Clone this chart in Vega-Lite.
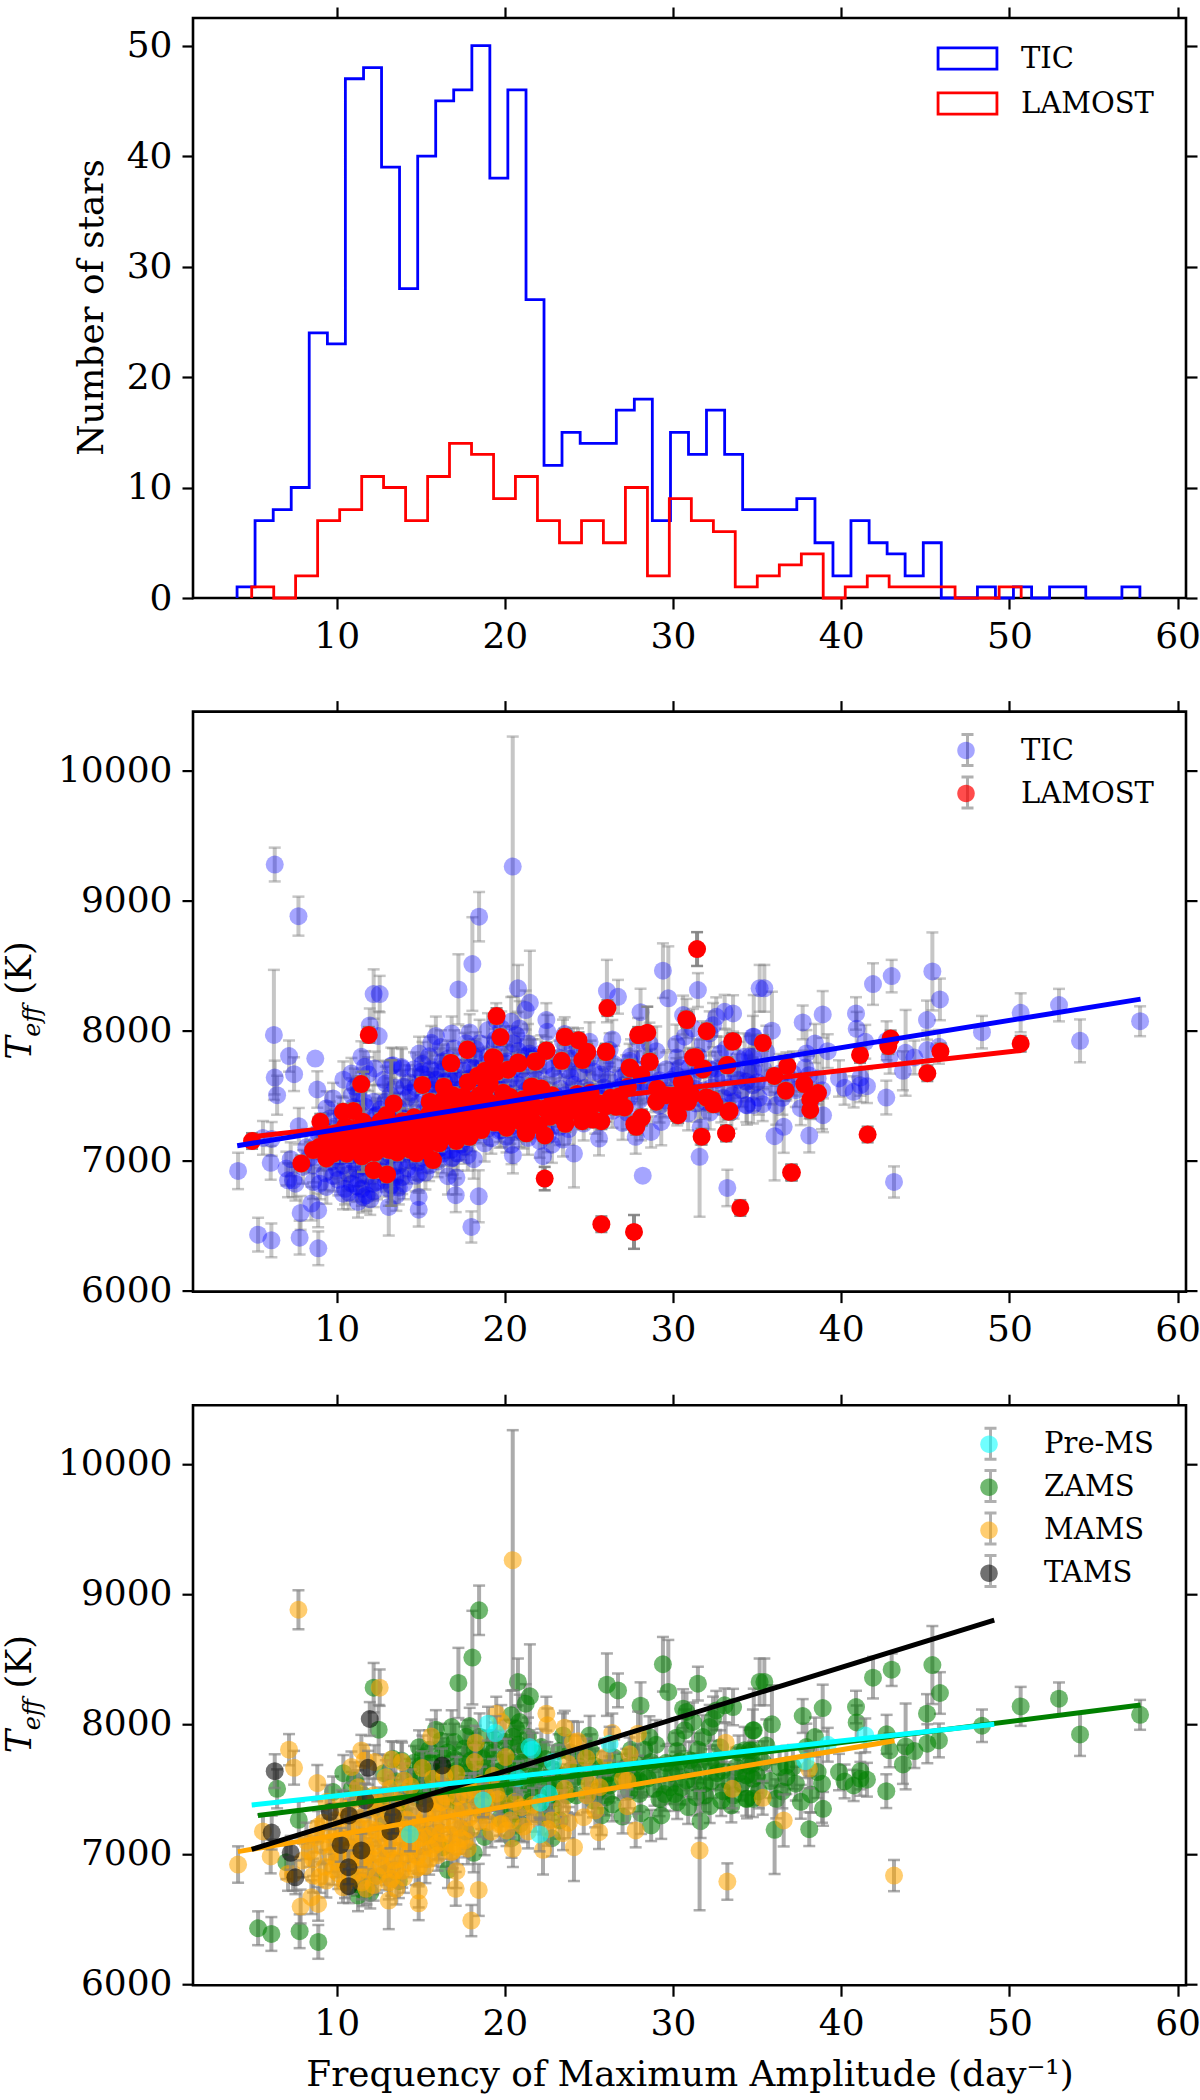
{"$schema":"https://vega.github.io/schema/vega-lite/v6.json","background":"white","padding":{"left":0,"top":4,"right":0,"bottom":0},"spacing":41.6,
"resolve":{"scale":{"color":"independent","shape":"independent"},"legend":{"color":"independent","shape":"independent"}},
"config":{"view":{"stroke":"black","strokeWidth":2.6},"font":"DejaVu Serif","axis":{"grid":false,"domain":false,"tickColor":"black","tickWidth":2.2,"tickSize":11,"labelFont":"DejaVu Serif","labelFontSize":36,"labelColor":"black","labelPadding":10,"titleFont":"DejaVu Serif","titleFontSize":35.8,"titleFontWeight":"normal","titleColor":"black"},"legend":{"labelFont":"DejaVu Serif","labelFontSize":29,"labelColor":"black"}},
"datasets":{
"hist":[
{"b":"TIC","x":4.08,"n":0,"o":0},{"b":"TIC","x":4.08,"n":1,"o":1},{"b":"TIC","x":5.15,"n":7,"o":2},{"b":"TIC","x":6.23,"n":8,"o":3},{"b":"TIC","x":7.30,"n":10,"o":4},{"b":"TIC","x":8.37,"n":24,"o":5},{"b":"TIC","x":9.45,"n":23,"o":6},{"b":"TIC","x":10.52,"n":47,"o":7},{"b":"TIC","x":11.60,"n":48,"o":8},{"b":"TIC","x":12.67,"n":39,"o":9},{"b":"TIC","x":13.74,"n":28,"o":10},{"b":"TIC","x":14.82,"n":40,"o":11},{"b":"TIC","x":15.89,"n":45,"o":12},{"b":"TIC","x":16.96,"n":46,"o":13},{"b":"TIC","x":18.04,"n":50,"o":14},{"b":"TIC","x":19.11,"n":38,"o":15},{"b":"TIC","x":20.18,"n":46,"o":16},{"b":"TIC","x":21.26,"n":27,"o":17},{"b":"TIC","x":22.33,"n":12,"o":18},{"b":"TIC","x":23.40,"n":15,"o":19},{"b":"TIC","x":24.48,"n":14,"o":20},{"b":"TIC","x":25.55,"n":14,"o":21},{"b":"TIC","x":26.63,"n":17,"o":22},{"b":"TIC","x":27.70,"n":18,"o":23},{"b":"TIC","x":28.77,"n":7,"o":24},{"b":"TIC","x":29.85,"n":15,"o":25},{"b":"TIC","x":30.92,"n":13,"o":26},{"b":"TIC","x":31.99,"n":17,"o":27},{"b":"TIC","x":33.07,"n":13,"o":28},{"b":"TIC","x":34.14,"n":8,"o":29},{"b":"TIC","x":35.21,"n":8,"o":30},{"b":"TIC","x":36.29,"n":8,"o":31},{"b":"TIC","x":37.36,"n":9,"o":32},{"b":"TIC","x":38.44,"n":5,"o":33},{"b":"TIC","x":39.51,"n":2,"o":34},{"b":"TIC","x":40.58,"n":7,"o":35},{"b":"TIC","x":41.66,"n":5,"o":36},{"b":"TIC","x":42.73,"n":4,"o":37},{"b":"TIC","x":43.80,"n":2,"o":38},{"b":"TIC","x":44.88,"n":5,"o":39},{"b":"TIC","x":45.95,"n":0,"o":40},{"b":"TIC","x":47.02,"n":0,"o":41},{"b":"TIC","x":48.10,"n":1,"o":42},{"b":"TIC","x":49.17,"n":0,"o":43},{"b":"TIC","x":50.24,"n":1,"o":44},{"b":"TIC","x":51.32,"n":0,"o":45},{"b":"TIC","x":52.39,"n":1,"o":46},{"b":"TIC","x":53.47,"n":1,"o":47},{"b":"TIC","x":54.54,"n":0,"o":48},{"b":"TIC","x":55.61,"n":0,"o":49},{"b":"TIC","x":56.69,"n":1,"o":50},{"b":"TIC","x":57.76,"n":0,"o":51},
{"b":"LAMOST","x":4.95,"n":0,"o":0},{"b":"LAMOST","x":4.95,"n":1,"o":1},{"b":"LAMOST","x":6.26,"n":0,"o":2},{"b":"LAMOST","x":7.56,"n":2,"o":3},{"b":"LAMOST","x":8.87,"n":7,"o":4},{"b":"LAMOST","x":10.18,"n":8,"o":5},{"b":"LAMOST","x":11.49,"n":11,"o":6},{"b":"LAMOST","x":12.79,"n":10,"o":7},{"b":"LAMOST","x":14.10,"n":7,"o":8},{"b":"LAMOST","x":15.41,"n":11,"o":9},{"b":"LAMOST","x":16.71,"n":14,"o":10},{"b":"LAMOST","x":18.02,"n":13,"o":11},{"b":"LAMOST","x":19.33,"n":9,"o":12},{"b":"LAMOST","x":20.63,"n":11,"o":13},{"b":"LAMOST","x":21.94,"n":7,"o":14},{"b":"LAMOST","x":23.25,"n":5,"o":15},{"b":"LAMOST","x":24.56,"n":7,"o":16},{"b":"LAMOST","x":25.86,"n":5,"o":17},{"b":"LAMOST","x":27.17,"n":10,"o":18},{"b":"LAMOST","x":28.48,"n":2,"o":19},{"b":"LAMOST","x":29.78,"n":9,"o":20},{"b":"LAMOST","x":31.09,"n":7,"o":21},{"b":"LAMOST","x":32.40,"n":6,"o":22},{"b":"LAMOST","x":33.70,"n":1,"o":23},{"b":"LAMOST","x":35.01,"n":2,"o":24},{"b":"LAMOST","x":36.32,"n":3,"o":25},{"b":"LAMOST","x":37.63,"n":4,"o":26},{"b":"LAMOST","x":38.93,"n":0,"o":27},{"b":"LAMOST","x":40.24,"n":1,"o":28},{"b":"LAMOST","x":41.55,"n":2,"o":29},{"b":"LAMOST","x":42.85,"n":1,"o":30},{"b":"LAMOST","x":44.16,"n":1,"o":31},{"b":"LAMOST","x":45.47,"n":1,"o":32},{"b":"LAMOST","x":46.77,"n":0,"o":33},{"b":"LAMOST","x":48.08,"n":0,"o":34},{"b":"LAMOST","x":49.39,"n":1,"o":35},{"b":"LAMOST","x":50.70,"n":0,"o":36}],
"fit2":[{"s":"LAMOST","f":4.95,"T":7180},{"s":"LAMOST","f":50.7,"T":7844},{"s":"TIC","f":4.09,"T":7112},{"s":"TIC","f":57.8,"T":8239}],
"fit3":[{"s":"ZAMS","f":5.32,"T":7295},{"s":"ZAMS","f":57.8,"T":8144},{"s":"MAMS","f":4.13,"T":7017},{"s":"MAMS","f":43.17,"T":7870},{"s":"TAMS","f":4.95,"T":7034},{"s":"TAMS","f":49.1,"T":8797},{"s":"Pre-MS","f":4.95,"T":7375},{"s":"Pre-MS","f":49.1,"T":7997}],
"stars":[
{"f":6.32,"T":9274,"e":130,"c":"X"},{"f":6.27,"T":7964,"e":500,"c":"X"},{"f":8.73,"T":7782,"e":0,"c":"X"},{"f":28.2,"T":6881,"e":0,"c":"X"},
{"f":35.43,"T":8322,"e":180,"c":"ZAMS"},{"f":41.89,"T":8355,"e":160,"c":"ZAMS"},{"f":43.0,"T":8416,"e":125,"c":"ZAMS"},{"f":45.42,"T":8452,"e":300,"c":"ZAMS"},{"f":45.87,"T":8237,"e":160,"c":"ZAMS"},{"f":45.1,"T":8078,"e":150,"c":"ZAMS"},{"f":40.88,"T":8129,"e":125,"c":"ZAMS"},{"f":40.92,"T":8011,"e":130,"c":"ZAMS"},{"f":38.9,"T":8121,"e":180,"c":"ZAMS"},{"f":37.71,"T":8060,"e":130,"c":"ZAMS"},{"f":35.88,"T":7996,"e":300,"c":"ZAMS"},{"f":34.8,"T":7950,"e":320,"c":"ZAMS"},{"f":38.44,"T":7898,"e":150,"c":"ZAMS"},{"f":42.7,"T":7919,"e":150,"c":"ZAMS"},{"f":42.88,"T":7796,"e":130,"c":"ZAMS"},{"f":43.83,"T":7826,"e":330,"c":"ZAMS"},{"f":44.35,"T":7790,"e":130,"c":"ZAMS"},{"f":45.12,"T":7847,"e":150,"c":"ZAMS"},{"f":45.81,"T":7872,"e":130,"c":"ZAMS"},{"f":43.67,"T":7688,"e":150,"c":"ZAMS"},{"f":48.37,"T":7985,"e":125,"c":"ZAMS"},{"f":50.67,"T":8134,"e":150,"c":"ZAMS"},{"f":52.95,"T":8193,"e":125,"c":"ZAMS"},{"f":54.2,"T":7918,"e":165,"c":"ZAMS"},{"f":57.77,"T":8069,"e":115,"c":"ZAMS"},{"f":42.68,"T":7482,"e":130,"c":"ZAMS"},{"f":41.14,"T":7636,"e":140,"c":"ZAMS"},{"f":39.87,"T":7629,"e":140,"c":"ZAMS"},{"f":40.2,"T":7557,"e":130,"c":"ZAMS"},{"f":40.74,"T":7526,"e":120,"c":"ZAMS"},{"f":41.14,"T":7577,"e":130,"c":"ZAMS"},{"f":41.53,"T":7570,"e":130,"c":"ZAMS"},{"f":38.86,"T":7539,"e":300,"c":"ZAMS"},{"f":38.6,"T":7629,"e":200,"c":"ZAMS"},{"f":38.2,"T":7457,"e":140,"c":"ZAMS"},{"f":38.92,"T":7346,"e":130,"c":"ZAMS"},{"f":38.1,"T":7190,"e":130,"c":"ZAMS"},{"f":36.14,"T":7423,"e":150,"c":"ZAMS"},{"f":36.04,"T":7185,"e":340,"c":"ZAMS"},{"f":34.75,"T":7577,"e":200,"c":"ZAMS"},{"f":34.4,"T":7423,"e":150,"c":"ZAMS"},{"f":34.75,"T":7423,"e":140,"c":"ZAMS"},{"f":35.55,"T":7834,"e":200,"c":"ZAMS"},{"f":34.75,"T":7796,"e":170,"c":"ZAMS"},{"f":34.26,"T":7796,"e":180,"c":"ZAMS"},{"f":35.35,"T":7706,"e":160,"c":"ZAMS"},{"f":34.36,"T":7603,"e":150,"c":"ZAMS"},{"f":36.74,"T":7680,"e":150,"c":"ZAMS"},{"f":36.74,"T":7590,"e":130,"c":"ZAMS"},{"f":36.34,"T":7667,"e":150,"c":"ZAMS"},{"f":37.13,"T":7667,"e":170,"c":"ZAMS"},{"f":37.93,"T":7821,"e":180,"c":"ZAMS"},
{"f":29.4,"T":8458,"e":210,"c":"ZAMS"},{"f":29.72,"T":8245,"e":400,"c":"ZAMS"},{"f":31.48,"T":8309,"e":130,"c":"ZAMS"},{"f":26.07,"T":8301,"e":240,"c":"ZAMS"},{"f":26.73,"T":8257,"e":130,"c":"ZAMS"},{"f":20.78,"T":8322,"e":180,"c":"ZAMS"},{"f":21.49,"T":8211,"e":400,"c":"ZAMS"},{"f":21.24,"T":8155,"e":150,"c":"ZAMS"},{"f":28.07,"T":8139,"e":180,"c":"ZAMS"},{"f":30.6,"T":8116,"e":150,"c":"ZAMS"},{"f":30.8,"T":8091,"e":150,"c":"ZAMS"},{"f":35.15,"T":8322,"e":180,"c":"ZAMS"},{"f":33.57,"T":8129,"e":140,"c":"ZAMS"},{"f":33.07,"T":8142,"e":130,"c":"ZAMS"},{"f":32.38,"T":8039,"e":170,"c":"ZAMS"},{"f":32.18,"T":7975,"e":170,"c":"ZAMS"},{"f":32.57,"T":8103,"e":150,"c":"ZAMS"},{"f":34.75,"T":7950,"e":160,"c":"ZAMS"},{"f":30.2,"T":7893,"e":150,"c":"ZAMS"},{"f":30.7,"T":7950,"e":160,"c":"ZAMS"},{"f":31.19,"T":8014,"e":150,"c":"ZAMS"},{"f":31.78,"T":7898,"e":170,"c":"ZAMS"},{"f":29.0,"T":7839,"e":190,"c":"ZAMS"},{"f":28.6,"T":7898,"e":160,"c":"ZAMS"},{"f":30.25,"T":7790,"e":140,"c":"ZAMS"},{"f":25.04,"T":7911,"e":150,"c":"ZAMS"},{"f":23.46,"T":7911,"e":170,"c":"ZAMS"},{"f":20.38,"T":8065,"e":190,"c":"ZAMS"},{"f":20.88,"T":8014,"e":210,"c":"ZAMS"},{"f":20.68,"T":7962,"e":170,"c":"ZAMS"},{"f":21.38,"T":7898,"e":150,"c":"ZAMS"},{"f":22.17,"T":7821,"e":140,"c":"ZAMS"},{"f":28.7,"T":7706,"e":150,"c":"ZAMS"},{"f":31.58,"T":7693,"e":150,"c":"ZAMS"},{"f":32.57,"T":7706,"e":130,"c":"ZAMS"},{"f":34.56,"T":7796,"e":160,"c":"ZAMS"},{"f":34.75,"T":7693,"e":170,"c":"ZAMS"},{"f":28.0,"T":7462,"e":140,"c":"ZAMS"},{"f":28.1,"T":7313,"e":160,"c":"ZAMS"},{"f":28.7,"T":7218,"e":120,"c":"ZAMS"},{"f":29.3,"T":7295,"e":180,"c":"ZAMS"},{"f":27.0,"T":7287,"e":130,"c":"ZAMS"},{"f":25.74,"T":7295,"e":150,"c":"ZAMS"},{"f":30.25,"T":7398,"e":130,"c":"ZAMS"},{"f":31.38,"T":7436,"e":140,"c":"ZAMS"},{"f":31.64,"T":7251,"e":130,"c":"ZAMS"},{"f":32.18,"T":7367,"e":130,"c":"ZAMS"},{"f":32.87,"T":7411,"e":120,"c":"ZAMS"},{"f":33.47,"T":7372,"e":130,"c":"ZAMS"},{"f":31.88,"T":7539,"e":150,"c":"ZAMS"},{"f":34.36,"T":7423,"e":130,"c":"ZAMS"},{"f":30.8,"T":7565,"e":130,"c":"ZAMS"},{"f":29.8,"T":7513,"e":130,"c":"ZAMS"},{"f":29.2,"T":7616,"e":120,"c":"ZAMS"},{"f":28.2,"T":7603,"e":150,"c":"ZAMS"},{"f":27.62,"T":7577,"e":130,"c":"ZAMS"},{"f":27.22,"T":7667,"e":140,"c":"ZAMS"},{"f":26.23,"T":7526,"e":130,"c":"ZAMS"},{"f":26.03,"T":7436,"e":140,"c":"ZAMS"},{"f":25.24,"T":7411,"e":130,"c":"ZAMS"},{"f":24.25,"T":7449,"e":150,"c":"ZAMS"},{"f":23.26,"T":7257,"e":140,"c":"ZAMS"},{"f":22.86,"T":7359,"e":150,"c":"ZAMS"},{"f":21.28,"T":7359,"e":130,"c":"ZAMS"},{"f":20.68,"T":7308,"e":150,"c":"ZAMS"},{"f":19.89,"T":7385,"e":140,"c":"ZAMS"},{"f":32.97,"T":7642,"e":130,"c":"ZAMS"},{"f":33.76,"T":7667,"e":150,"c":"ZAMS"},{"f":31.19,"T":7642,"e":130,"c":"ZAMS"},{"f":30.2,"T":7655,"e":130,"c":"ZAMS"},
{"f":18.07,"T":8509,"e":360,"c":"ZAMS"},{"f":17.24,"T":8314,"e":270,"c":"ZAMS"},{"f":18.47,"T":8873,"e":190,"c":"ZAMS"},{"f":12.2,"T":8278,"e":190,"c":"ZAMS"},{"f":12.5,"T":7955,"e":190,"c":"ZAMS"},{"f":15.9,"T":7955,"e":150,"c":"ZAMS"},{"f":16.84,"T":7975,"e":130,"c":"ZAMS"},{"f":17.91,"T":7983,"e":140,"c":"ZAMS"},{"f":6.46,"T":7500,"e":150,"c":"ZAMS"},{"f":7.75,"T":7262,"e":140,"c":"ZAMS"},{"f":9.79,"T":7475,"e":120,"c":"ZAMS"},{"f":5.33,"T":6428,"e":130,"c":"ZAMS"},{"f":6.12,"T":6384,"e":130,"c":"ZAMS"},{"f":7.8,"T":6405,"e":130,"c":"ZAMS"},{"f":8.91,"T":6323,"e":130,"c":"ZAMS"},{"f":18.15,"T":7008,"e":150,"c":"ZAMS"},{"f":16.62,"T":6877,"e":140,"c":"ZAMS"},{"f":11.27,"T":6679,"e":120,"c":"ZAMS"},{"f":7.01,"T":6936,"e":130,"c":"ZAMS"},{"f":12.17,"T":6820,"e":130,"c":"ZAMS"},{"f":11.57,"T":6718,"e":120,"c":"ZAMS"},{"f":16.3,"T":7051,"e":150,"c":"ZAMS"},{"f":13.85,"T":7718,"e":150,"c":"ZAMS"},{"f":13.35,"T":7731,"e":130,"c":"ZAMS"},{"f":11.08,"T":7565,"e":140,"c":"ZAMS"},{"f":15.1,"T":7740,"e":170,"c":"ZAMS"},{"f":15.5,"T":7800,"e":150,"c":"ZAMS"},{"f":15.0,"T":7680,"e":130,"c":"ZAMS"},{"f":14.7,"T":7560,"e":140,"c":"ZAMS"},{"f":14.8,"T":7430,"e":150,"c":"ZAMS"},{"f":15.4,"T":7620,"e":130,"c":"ZAMS"},{"f":16.1,"T":7700,"e":160,"c":"ZAMS"},{"f":16.6,"T":7780,"e":140,"c":"ZAMS"},{"f":17.1,"T":7640,"e":130,"c":"ZAMS"},{"f":17.6,"T":7810,"e":170,"c":"ZAMS"},{"f":18.0,"T":7720,"e":150,"c":"ZAMS"},{"f":18.5,"T":7900,"e":180,"c":"ZAMS"},{"f":18.9,"T":7660,"e":140,"c":"ZAMS"},{"f":19.3,"T":7780,"e":160,"c":"ZAMS"},{"f":19.6,"T":7560,"e":130,"c":"ZAMS"},{"f":20.0,"T":7860,"e":170,"c":"ZAMS"},{"f":20.3,"T":7620,"e":140,"c":"ZAMS"},{"f":20.6,"T":7480,"e":130,"c":"ZAMS"},{"f":21.0,"T":7700,"e":150,"c":"ZAMS"},{"f":21.3,"T":7540,"e":130,"c":"ZAMS"},{"f":21.7,"T":7780,"e":150,"c":"ZAMS"},{"f":22.0,"T":7450,"e":130,"c":"ZAMS"},{"f":16.4,"T":7430,"e":130,"c":"ZAMS"},{"f":16.9,"T":7520,"e":140,"c":"ZAMS"},{"f":17.4,"T":7380,"e":130,"c":"ZAMS"},{"f":18.1,"T":7440,"e":140,"c":"ZAMS"},{"f":18.6,"T":7320,"e":130,"c":"ZAMS"},{"f":19.1,"T":7500,"e":140,"c":"ZAMS"},{"f":19.7,"T":7270,"e":130,"c":"ZAMS"},{"f":20.2,"T":7350,"e":140,"c":"ZAMS"},{"f":20.9,"T":7230,"e":130,"c":"ZAMS"},{"f":21.5,"T":7400,"e":150,"c":"ZAMS"},{"f":22.3,"T":7280,"e":130,"c":"ZAMS"},{"f":22.8,"T":7120,"e":140,"c":"ZAMS"},{"f":23.3,"T":7550,"e":140,"c":"ZAMS"},{"f":23.9,"T":7640,"e":130,"c":"ZAMS"},{"f":24.6,"T":7760,"e":150,"c":"ZAMS"},{"f":25.3,"T":7680,"e":130,"c":"ZAMS"},{"f":25.9,"T":7560,"e":140,"c":"ZAMS"},{"f":26.5,"T":7740,"e":140,"c":"ZAMS"},{"f":27.0,"T":7640,"e":130,"c":"ZAMS"},{"f":27.8,"T":7690,"e":150,"c":"ZAMS"},{"f":28.5,"T":7580,"e":140,"c":"ZAMS"},{"f":29.5,"T":7460,"e":130,"c":"ZAMS"},{"f":30.5,"T":7510,"e":130,"c":"ZAMS"},{"f":31.0,"T":7720,"e":140,"c":"ZAMS"},{"f":32.3,"T":7560,"e":130,"c":"ZAMS"},{"f":33.0,"T":7480,"e":130,"c":"ZAMS"},{"f":33.9,"T":7620,"e":140,"c":"ZAMS"},{"f":34.1,"T":7540,"e":130,"c":"ZAMS"},{"f":35.1,"T":7480,"e":130,"c":"ZAMS"},{"f":15.3,"T":7150,"e":140,"c":"ZAMS"},{"f":16.0,"T":7090,"e":130,"c":"ZAMS"},{"f":17.7,"T":7170,"e":130,"c":"ZAMS"},{"f":18.8,"T":7130,"e":140,"c":"ZAMS"},{"f":20.4,"T":7120,"e":150,"c":"ZAMS"},{"f":12.8,"T":7620,"e":140,"c":"ZAMS"},{"f":13.5,"T":7560,"e":130,"c":"ZAMS"},{"f":14.2,"T":7480,"e":140,"c":"ZAMS"},{"f":12.4,"T":7350,"e":130,"c":"ZAMS"},{"f":13.0,"T":7250,"e":130,"c":"ZAMS"},{"f":14.0,"T":7320,"e":140,"c":"ZAMS"},{"f":11.6,"T":7450,"e":130,"c":"ZAMS"},{"f":10.9,"T":7500,"e":130,"c":"ZAMS"},{"f":10.4,"T":7620,"e":140,"c":"ZAMS"},{"f":12.0,"T":6700,"e":120,"c":"ZAMS"},{"f":11.2,"T":6800,"e":120,"c":"ZAMS"},{"f":12.9,"T":6850,"e":130,"c":"ZAMS"},{"f":13.7,"T":6790,"e":130,"c":"ZAMS"},{"f":19.0,"T":7800,"e":150,"c":"ZAMS"},{"f":17.0,"T":7860,"e":140,"c":"ZAMS"},{"f":16.2,"T":7870,"e":130,"c":"ZAMS"},{"f":15.7,"T":7540,"e":140,"c":"ZAMS"},{"f":17.8,"T":7540,"e":140,"c":"ZAMS"},{"f":18.3,"T":7610,"e":150,"c":"ZAMS"},{"f":19.9,"T":7700,"e":150,"c":"ZAMS"},{"f":20.8,"T":7840,"e":140,"c":"ZAMS"},{"f":21.9,"T":7620,"e":130,"c":"ZAMS"},{"f":22.6,"T":7500,"e":140,"c":"ZAMS"},
{"f":12.9,"T":7450,"e":130,"c":"ZAMS"},{"f":13.6,"T":7380,"e":130,"c":"ZAMS"},{"f":14.3,"T":7600,"e":130,"c":"ZAMS"},{"f":14.6,"T":7700,"e":130,"c":"ZAMS"},{"f":14.9,"T":7820,"e":130,"c":"ZAMS"},{"f":15.2,"T":7500,"e":130,"c":"ZAMS"},{"f":15.6,"T":7700,"e":130,"c":"ZAMS"},{"f":15.8,"T":7410,"e":130,"c":"ZAMS"},{"f":15.9,"T":7620,"e":130,"c":"ZAMS"},{"f":16.2,"T":7530,"e":130,"c":"ZAMS"},{"f":16.3,"T":7760,"e":130,"c":"ZAMS"},{"f":16.7,"T":7620,"e":130,"c":"ZAMS"},{"f":16.7,"T":7400,"e":130,"c":"ZAMS"},{"f":17.0,"T":7730,"e":130,"c":"ZAMS"},{"f":17.2,"T":7470,"e":130,"c":"ZAMS"},{"f":17.4,"T":7550,"e":130,"c":"ZAMS"},{"f":17.5,"T":7690,"e":130,"c":"ZAMS"},{"f":17.7,"T":7900,"e":130,"c":"ZAMS"},{"f":17.9,"T":7630,"e":130,"c":"ZAMS"},{"f":18.2,"T":7800,"e":130,"c":"ZAMS"},{"f":18.4,"T":7480,"e":130,"c":"ZAMS"},{"f":18.7,"T":7730,"e":130,"c":"ZAMS"},{"f":18.7,"T":7560,"e":130,"c":"ZAMS"},{"f":19.0,"T":7400,"e":130,"c":"ZAMS"},{"f":19.2,"T":7620,"e":130,"c":"ZAMS"},{"f":19.4,"T":7880,"e":130,"c":"ZAMS"},{"f":19.5,"T":7460,"e":130,"c":"ZAMS"},{"f":19.8,"T":7640,"e":130,"c":"ZAMS"},{"f":20.1,"T":7760,"e":130,"c":"ZAMS"},{"f":20.1,"T":7520,"e":130,"c":"ZAMS"},{"f":20.5,"T":7700,"e":130,"c":"ZAMS"},{"f":20.5,"T":7900,"e":130,"c":"ZAMS"},{"f":20.7,"T":7400,"e":130,"c":"ZAMS"},{"f":21.1,"T":7610,"e":130,"c":"ZAMS"},{"f":21.2,"T":7800,"e":130,"c":"ZAMS"},{"f":21.6,"T":7470,"e":130,"c":"ZAMS"},{"f":21.8,"T":7700,"e":130,"c":"ZAMS"},{"f":22.1,"T":7570,"e":130,"c":"ZAMS"},{"f":22.4,"T":7730,"e":130,"c":"ZAMS"},{"f":22.5,"T":7390,"e":130,"c":"ZAMS"},{"f":22.9,"T":7650,"e":130,"c":"ZAMS"},{"f":23.0,"T":7500,"e":130,"c":"ZAMS"},{"f":23.2,"T":7790,"e":130,"c":"ZAMS"},{"f":23.7,"T":7450,"e":130,"c":"ZAMS"},{"f":23.9,"T":7780,"e":130,"c":"ZAMS"},{"f":24.1,"T":7580,"e":130,"c":"ZAMS"},{"f":24.4,"T":7670,"e":130,"c":"ZAMS"},{"f":24.8,"T":7560,"e":130,"c":"ZAMS"},{"f":25.1,"T":7790,"e":130,"c":"ZAMS"},{"f":25.5,"T":7480,"e":130,"c":"ZAMS"},{"f":25.7,"T":7660,"e":130,"c":"ZAMS"},{"f":26.2,"T":7620,"e":130,"c":"ZAMS"},{"f":26.4,"T":7380,"e":130,"c":"ZAMS"},{"f":26.8,"T":7560,"e":130,"c":"ZAMS"},{"f":27.4,"T":7480,"e":130,"c":"ZAMS"},{"f":27.5,"T":7800,"e":130,"c":"ZAMS"},{"f":28.0,"T":7560,"e":130,"c":"ZAMS"},{"f":28.3,"T":7800,"e":130,"c":"ZAMS"},{"f":28.9,"T":7500,"e":130,"c":"ZAMS"},{"f":29.2,"T":7420,"e":130,"c":"ZAMS"},{"f":29.6,"T":7700,"e":130,"c":"ZAMS"},{"f":29.9,"T":7620,"e":130,"c":"ZAMS"},{"f":30.1,"T":7460,"e":130,"c":"ZAMS"},{"f":30.4,"T":7710,"e":130,"c":"ZAMS"},{"f":30.9,"T":7360,"e":130,"c":"ZAMS"},{"f":31.3,"T":7550,"e":130,"c":"ZAMS"},{"f":31.5,"T":7800,"e":130,"c":"ZAMS"},{"f":31.9,"T":7450,"e":130,"c":"ZAMS"},{"f":32.2,"T":7700,"e":130,"c":"ZAMS"},{"f":32.6,"T":7620,"e":130,"c":"ZAMS"},{"f":32.8,"T":7820,"e":130,"c":"ZAMS"},{"f":33.3,"T":7560,"e":130,"c":"ZAMS"},{"f":33.6,"T":7450,"e":130,"c":"ZAMS"},{"f":33.9,"T":7780,"e":130,"c":"ZAMS"},{"f":34.5,"T":7680,"e":130,"c":"ZAMS"},{"f":35.0,"T":7600,"e":130,"c":"ZAMS"},{"f":35.8,"T":7560,"e":130,"c":"ZAMS"},{"f":36.5,"T":7480,"e":130,"c":"ZAMS"},{"f":37.3,"T":7540,"e":130,"c":"ZAMS"},{"f":37.6,"T":7400,"e":130,"c":"ZAMS"},
{"f":20.47,"T":9258,"e":1000,"c":"MAMS"},{"f":7.73,"T":8877,"e":150,"c":"MAMS"},{"f":43.14,"T":6833,"e":120,"c":"MAMS"},{"f":35.33,"T":7431,"e":130,"c":"MAMS"},{"f":36.58,"T":7257,"e":200,"c":"MAMS"},{"f":38.08,"T":7654,"e":150,"c":"MAMS"},{"f":22.47,"T":8078,"e":130,"c":"MAMS"},{"f":22.53,"T":7988,"e":130,"c":"MAMS"},{"f":23.56,"T":7970,"e":130,"c":"MAMS"},{"f":24.35,"T":7865,"e":150,"c":"MAMS"},{"f":24.05,"T":7860,"e":160,"c":"MAMS"},{"f":26.39,"T":7929,"e":150,"c":"MAMS"},{"f":27.92,"T":7924,"e":170,"c":"MAMS"},{"f":33.13,"T":7855,"e":150,"c":"MAMS"},{"f":24.84,"T":7736,"e":150,"c":"MAMS"},{"f":25.94,"T":7744,"e":140,"c":"MAMS"},{"f":27.42,"T":7765,"e":130,"c":"MAMS"},{"f":23.75,"T":7693,"e":130,"c":"MAMS"},{"f":27.02,"T":7577,"e":130,"c":"MAMS"},{"f":27.28,"T":7565,"e":130,"c":"MAMS"},{"f":23.56,"T":7500,"e":140,"c":"MAMS"},{"f":25.04,"T":7539,"e":140,"c":"MAMS"},{"f":25.64,"T":7513,"e":140,"c":"MAMS"},{"f":24.88,"T":7449,"e":130,"c":"MAMS"},{"f":23.4,"T":7359,"e":130,"c":"MAMS"},{"f":25.38,"T":7334,"e":130,"c":"MAMS"},{"f":27.28,"T":7367,"e":130,"c":"MAMS"},{"f":24.69,"T":7282,"e":130,"c":"MAMS"},{"f":25.6,"T":7167,"e":130,"c":"MAMS"},{"f":27.78,"T":7180,"e":130,"c":"MAMS"},{"f":23.46,"T":7159,"e":130,"c":"MAMS"},{"f":22.56,"T":7192,"e":130,"c":"MAMS"},{"f":21.38,"T":7172,"e":130,"c":"MAMS"},{"f":21.67,"T":7377,"e":130,"c":"MAMS"},{"f":20.98,"T":7359,"e":130,"c":"MAMS"},{"f":20.33,"T":7257,"e":130,"c":"MAMS"},{"f":19.69,"T":7226,"e":130,"c":"MAMS"},{"f":19.0,"T":7244,"e":130,"c":"MAMS"},{"f":20.48,"T":7039,"e":140,"c":"MAMS"},{"f":22.27,"T":7031,"e":190,"c":"MAMS"},{"f":24.11,"T":7051,"e":260,"c":"MAMS"},{"f":31.58,"T":7026,"e":460,"c":"MAMS"},{"f":33.23,"T":6787,"e":140,"c":"MAMS"},{"f":33.53,"T":7500,"e":150,"c":"MAMS"},{"f":20.05,"T":7744,"e":140,"c":"MAMS"},{"f":19.79,"T":8014,"e":130,"c":"MAMS"},{"f":19.49,"T":8078,"e":130,"c":"MAMS"},{"f":19.49,"T":7462,"e":130,"c":"MAMS"},
{"f":12.56,"T":8278,"e":140,"c":"MAMS"},{"f":7.17,"T":7801,"e":120,"c":"MAMS"},{"f":7.47,"T":7662,"e":130,"c":"MAMS"},{"f":8.85,"T":7544,"e":140,"c":"MAMS"},{"f":15.63,"T":7903,"e":130,"c":"MAMS"},{"f":18.27,"T":7855,"e":130,"c":"MAMS"},{"f":18.21,"T":7706,"e":130,"c":"MAMS"},{"f":11.47,"T":7795,"e":120,"c":"MAMS"},{"f":11.67,"T":7719,"e":120,"c":"MAMS"},{"f":10.88,"T":7667,"e":120,"c":"MAMS"},{"f":13.25,"T":7726,"e":140,"c":"MAMS"},{"f":13.89,"T":7706,"e":150,"c":"MAMS"},{"f":12.92,"T":7590,"e":130,"c":"MAMS"},{"f":14.0,"T":7565,"e":130,"c":"MAMS"},{"f":11.27,"T":7513,"e":130,"c":"MAMS"},{"f":12.26,"T":7706,"e":130,"c":"MAMS"},{"f":5.62,"T":7172,"e":130,"c":"MAMS"},{"f":6.08,"T":6980,"e":130,"c":"MAMS"},{"f":4.14,"T":6918,"e":140,"c":"MAMS"},{"f":7.41,"T":6846,"e":130,"c":"MAMS"},{"f":7.11,"T":6846,"e":130,"c":"MAMS"},{"f":8.0,"T":6949,"e":130,"c":"MAMS"},{"f":8.6,"T":6833,"e":130,"c":"MAMS"},{"f":9.39,"T":6795,"e":130,"c":"MAMS"},{"f":10.38,"T":6743,"e":120,"c":"MAMS"},{"f":11.77,"T":6731,"e":120,"c":"MAMS"},{"f":13.25,"T":6808,"e":130,"c":"MAMS"},{"f":13.55,"T":6731,"e":120,"c":"MAMS"},{"f":13.1,"T":6641,"e":220,"c":"MAMS"},{"f":7.86,"T":6595,"e":130,"c":"MAMS"},{"f":8.5,"T":6667,"e":130,"c":"MAMS"},{"f":8.9,"T":6615,"e":130,"c":"MAMS"},{"f":14.88,"T":6897,"e":130,"c":"MAMS"},{"f":15.28,"T":6905,"e":130,"c":"MAMS"},{"f":14.88,"T":6718,"e":130,"c":"MAMS"},{"f":14.88,"T":6620,"e":130,"c":"MAMS"},{"f":17.12,"T":6867,"e":130,"c":"MAMS"},{"f":17.08,"T":6731,"e":130,"c":"MAMS"},{"f":18.45,"T":6723,"e":200,"c":"MAMS"},{"f":18.01,"T":6487,"e":120,"c":"MAMS"},{"f":17.2,"T":7051,"e":130,"c":"MAMS"},{"f":17.62,"T":7103,"e":130,"c":"MAMS"},{"f":16.82,"T":7013,"e":130,"c":"MAMS"},{"f":19.8,"T":7231,"e":130,"c":"MAMS"},{"f":16.23,"T":7398,"e":130,"c":"MAMS"},{"f":17.12,"T":7616,"e":130,"c":"MAMS"},{"f":15.73,"T":7577,"e":130,"c":"MAMS"},{"f":17.91,"T":7488,"e":130,"c":"MAMS"},
{"f":8.2,"T":7100,"e":140,"c":"MAMS"},{"f":8.6,"T":6960,"e":130,"c":"MAMS"},{"f":8.9,"T":7210,"e":120,"c":"MAMS"},{"f":9.1,"T":7060,"e":140,"c":"MAMS"},{"f":9.3,"T":6900,"e":130,"c":"MAMS"},{"f":9.5,"T":7150,"e":120,"c":"MAMS"},{"f":9.7,"T":6990,"e":130,"c":"MAMS"},{"f":9.9,"T":7260,"e":130,"c":"MAMS"},{"f":10.1,"T":6850,"e":120,"c":"MAMS"},{"f":10.2,"T":7120,"e":140,"c":"MAMS"},{"f":10.4,"T":6960,"e":120,"c":"MAMS"},{"f":10.6,"T":7200,"e":130,"c":"MAMS"},{"f":10.8,"T":7040,"e":120,"c":"MAMS"},{"f":10.9,"T":6820,"e":130,"c":"MAMS"},{"f":11.1,"T":7130,"e":120,"c":"MAMS"},{"f":11.2,"T":6930,"e":130,"c":"MAMS"},{"f":11.4,"T":7280,"e":120,"c":"MAMS"},{"f":11.5,"T":6780,"e":130,"c":"MAMS"},{"f":11.7,"T":7060,"e":130,"c":"MAMS"},{"f":11.8,"T":6880,"e":120,"c":"MAMS"},{"f":12.0,"T":7190,"e":130,"c":"MAMS"},{"f":12.1,"T":6960,"e":130,"c":"MAMS"},{"f":12.3,"T":7340,"e":120,"c":"MAMS"},{"f":12.4,"T":6830,"e":130,"c":"MAMS"},{"f":12.5,"T":7100,"e":120,"c":"MAMS"},{"f":12.7,"T":6910,"e":130,"c":"MAMS"},{"f":12.8,"T":7240,"e":130,"c":"MAMS"},{"f":13.0,"T":7010,"e":120,"c":"MAMS"},{"f":13.1,"T":6780,"e":130,"c":"MAMS"},{"f":13.3,"T":7120,"e":130,"c":"MAMS"},{"f":13.4,"T":6950,"e":120,"c":"MAMS"},{"f":13.6,"T":7300,"e":130,"c":"MAMS"},{"f":13.8,"T":7060,"e":130,"c":"MAMS"},{"f":13.9,"T":6870,"e":130,"c":"MAMS"},{"f":14.1,"T":7190,"e":130,"c":"MAMS"},{"f":14.3,"T":7000,"e":130,"c":"MAMS"},{"f":14.5,"T":7330,"e":120,"c":"MAMS"},{"f":14.6,"T":7090,"e":130,"c":"MAMS"},{"f":14.8,"T":6980,"e":130,"c":"MAMS"},{"f":15.0,"T":7240,"e":130,"c":"MAMS"},{"f":15.2,"T":7130,"e":130,"c":"MAMS"},{"f":15.4,"T":7390,"e":130,"c":"MAMS"},{"f":15.6,"T":7040,"e":130,"c":"MAMS"},{"f":15.8,"T":7200,"e":130,"c":"MAMS"},{"f":16.0,"T":7310,"e":130,"c":"MAMS"},{"f":16.1,"T":7090,"e":130,"c":"MAMS"},{"f":16.3,"T":7230,"e":130,"c":"MAMS"},{"f":16.5,"T":7440,"e":130,"c":"MAMS"},{"f":16.7,"T":7150,"e":130,"c":"MAMS"},{"f":16.9,"T":7020,"e":130,"c":"MAMS"},{"f":17.1,"T":7330,"e":130,"c":"MAMS"},{"f":17.3,"T":7200,"e":130,"c":"MAMS"},{"f":17.6,"T":7460,"e":130,"c":"MAMS"},{"f":17.9,"T":7280,"e":130,"c":"MAMS"},{"f":18.3,"T":7380,"e":130,"c":"MAMS"},{"f":18.6,"T":7540,"e":130,"c":"MAMS"},{"f":18.9,"T":7440,"e":130,"c":"MAMS"},{"f":19.3,"T":7600,"e":130,"c":"MAMS"},{"f":12.2,"T":7450,"e":130,"c":"MAMS"},{"f":11.0,"T":7410,"e":130,"c":"MAMS"},{"f":10.3,"T":7360,"e":130,"c":"MAMS"},{"f":9.4,"T":7400,"e":130,"c":"MAMS"},{"f":13.2,"T":7500,"e":130,"c":"MAMS"},{"f":14.4,"T":7520,"e":130,"c":"MAMS"},{"f":15.1,"T":7660,"e":130,"c":"MAMS"},{"f":16.4,"T":7600,"e":130,"c":"MAMS"},
{"f":8.4,"T":7020,"e":120,"c":"MAMS"},{"f":8.8,"T":7130,"e":120,"c":"MAMS"},{"f":9.0,"T":6820,"e":120,"c":"MAMS"},{"f":9.2,"T":7240,"e":120,"c":"MAMS"},{"f":9.6,"T":7070,"e":120,"c":"MAMS"},{"f":9.8,"T":6880,"e":120,"c":"MAMS"},{"f":10.0,"T":7180,"e":120,"c":"MAMS"},{"f":10.0,"T":6940,"e":120,"c":"MAMS"},{"f":10.3,"T":7030,"e":120,"c":"MAMS"},{"f":10.5,"T":6780,"e":120,"c":"MAMS"},{"f":10.7,"T":7290,"e":120,"c":"MAMS"},{"f":10.9,"T":7120,"e":120,"c":"MAMS"},{"f":11.0,"T":6990,"e":120,"c":"MAMS"},{"f":11.3,"T":7210,"e":120,"c":"MAMS"},{"f":11.3,"T":6860,"e":120,"c":"MAMS"},{"f":11.6,"T":7130,"e":120,"c":"MAMS"},{"f":11.6,"T":6950,"e":120,"c":"MAMS"},{"f":11.9,"T":7000,"e":120,"c":"MAMS"},{"f":11.9,"T":7270,"e":120,"c":"MAMS"},{"f":12.2,"T":7060,"e":120,"c":"MAMS"},{"f":12.2,"T":6760,"e":120,"c":"MAMS"},{"f":12.4,"T":7180,"e":120,"c":"MAMS"},{"f":12.6,"T":6980,"e":120,"c":"MAMS"},{"f":12.6,"T":7390,"e":120,"c":"MAMS"},{"f":12.9,"T":7130,"e":120,"c":"MAMS"},{"f":12.9,"T":6880,"e":120,"c":"MAMS"},{"f":13.1,"T":7320,"e":120,"c":"MAMS"},{"f":13.2,"T":7040,"e":120,"c":"MAMS"},{"f":13.5,"T":6870,"e":120,"c":"MAMS"},{"f":13.5,"T":7200,"e":120,"c":"MAMS"},{"f":13.7,"T":6960,"e":120,"c":"MAMS"},{"f":13.7,"T":7400,"e":120,"c":"MAMS"},{"f":14.0,"T":7110,"e":120,"c":"MAMS"},{"f":14.0,"T":6820,"e":120,"c":"MAMS"},{"f":14.2,"T":7260,"e":120,"c":"MAMS"},{"f":14.2,"T":6940,"e":120,"c":"MAMS"},{"f":14.4,"T":7060,"e":120,"c":"MAMS"},{"f":14.7,"T":7230,"e":120,"c":"MAMS"},{"f":14.7,"T":6880,"e":120,"c":"MAMS"},{"f":14.9,"T":7120,"e":120,"c":"MAMS"},{"f":15.1,"T":7020,"e":120,"c":"MAMS"},{"f":15.3,"T":7280,"e":120,"c":"MAMS"},{"f":15.5,"T":7140,"e":120,"c":"MAMS"},{"f":15.5,"T":6960,"e":120,"c":"MAMS"},{"f":15.7,"T":7330,"e":120,"c":"MAMS"},{"f":15.9,"T":7070,"e":120,"c":"MAMS"},{"f":16.0,"T":6990,"e":120,"c":"MAMS"},{"f":16.2,"T":7160,"e":120,"c":"MAMS"},{"f":16.2,"T":7400,"e":120,"c":"MAMS"},{"f":16.6,"T":7290,"e":120,"c":"MAMS"},{"f":16.8,"T":7080,"e":120,"c":"MAMS"},{"f":17.0,"T":7210,"e":120,"c":"MAMS"},{"f":17.2,"T":7440,"e":120,"c":"MAMS"},{"f":17.4,"T":7120,"e":120,"c":"MAMS"},{"f":17.5,"T":7340,"e":120,"c":"MAMS"},{"f":17.8,"T":7040,"e":120,"c":"MAMS"},{"f":18.0,"T":7190,"e":120,"c":"MAMS"},{"f":18.2,"T":7500,"e":120,"c":"MAMS"},{"f":18.5,"T":7250,"e":120,"c":"MAMS"},{"f":18.8,"T":7360,"e":120,"c":"MAMS"},{"f":19.2,"T":7170,"e":120,"c":"MAMS"},{"f":19.6,"T":7420,"e":120,"c":"MAMS"},{"f":20.1,"T":7180,"e":120,"c":"MAMS"},{"f":20.6,"T":7400,"e":120,"c":"MAMS"},{"f":21.1,"T":7210,"e":120,"c":"MAMS"},{"f":21.8,"T":7290,"e":120,"c":"MAMS"},{"f":22.8,"T":7260,"e":120,"c":"MAMS"},{"f":23.8,"T":7240,"e":120,"c":"MAMS"},
{"f":19.0,"T":8001,"e":130,"c":"Pre-MS"},{"f":19.45,"T":7929,"e":130,"c":"Pre-MS"},{"f":21.47,"T":7821,"e":130,"c":"Pre-MS"},{"f":21.63,"T":7801,"e":130,"c":"Pre-MS"},{"f":22.86,"T":7706,"e":130,"c":"Pre-MS"},{"f":26.23,"T":7847,"e":130,"c":"Pre-MS"},{"f":20.78,"T":7583,"e":130,"c":"Pre-MS"},{"f":18.7,"T":7411,"e":130,"c":"Pre-MS"},{"f":22.11,"T":7393,"e":130,"c":"Pre-MS"},{"f":22.62,"T":7462,"e":130,"c":"Pre-MS"},{"f":22.07,"T":7149,"e":130,"c":"Pre-MS"},{"f":14.35,"T":7150,"e":130,"c":"Pre-MS"},{"f":37.87,"T":7713,"e":130,"c":"Pre-MS"},{"f":39.2,"T":7839,"e":130,"c":"Pre-MS"},{"f":41.43,"T":7911,"e":130,"c":"Pre-MS"},
{"f":11.97,"T":8037,"e":130,"c":"TAMS"},{"f":6.32,"T":7636,"e":130,"c":"TAMS"},{"f":11.87,"T":7662,"e":130,"c":"TAMS"},{"f":16.27,"T":7680,"e":130,"c":"TAMS"},{"f":15.24,"T":7385,"e":130,"c":"TAMS"},{"f":9.6,"T":7321,"e":130,"c":"TAMS"},{"f":10.74,"T":7295,"e":130,"c":"TAMS"},{"f":11.71,"T":7411,"e":130,"c":"TAMS"},{"f":13.35,"T":7287,"e":130,"c":"TAMS"},{"f":13.2,"T":7172,"e":130,"c":"TAMS"},{"f":6.14,"T":7164,"e":130,"c":"TAMS"},{"f":7.27,"T":7008,"e":130,"c":"TAMS"},{"f":10.24,"T":7069,"e":130,"c":"TAMS"},{"f":11.47,"T":7026,"e":130,"c":"TAMS"},{"f":10.7,"T":6897,"e":130,"c":"TAMS"},{"f":7.55,"T":6820,"e":130,"c":"TAMS"},{"f":10.72,"T":6751,"e":130,"c":"TAMS"}],
"lamost":[{"f":31.43,"T":8624,"e":130},{"f":27.68,"T":6449,"e":130},{"f":22.37,"T":6859,"e":90},{"f":13.25,"T":7210,"e":560},{"f":11.57,"T":7296,"e":385},{"f":13.75,"T":7220,"e":180},{"f":50.67,"T":7896,"e":60},{"f":45.9,"T":7837,"e":60},{"f":45.12,"T":7669,"e":60},{"f":42.94,"T":7937,"e":60},{"f":42.8,"T":7878,"e":60},{"f":41.12,"T":7810,"e":60},{"f":41.57,"T":7198,"e":60},{"f":37.02,"T":6906,"e":60},{"f":38.62,"T":7517,"e":60},{"f":38.16,"T":7466,"e":60},{"f":38.16,"T":7387,"e":60},{"f":37.8,"T":7586,"e":60},{"f":36.7,"T":7535,"e":60},{"f":36.8,"T":7724,"e":60},{"f":36.03,"T":7648,"e":60},{"f":35.34,"T":7902,"e":60},{"f":33.52,"T":7913,"e":60},{"f":33.25,"T":7730,"e":60},{"f":33.16,"T":7208,"e":60},{"f":33.3,"T":7373,"e":60},{"f":32.34,"T":7466,"e":60},{"f":32.0,"T":7483,"e":60},{"f":32.47,"T":7432,"e":60},{"f":31.7,"T":7181,"e":60},{"f":31.34,"T":7792,"e":60},{"f":31.8,"T":7706,"e":60},{"f":30.88,"T":7483,"e":60},{"f":30.2,"T":7363,"e":60},{"f":30.29,"T":7432,"e":60},{"f":30.52,"T":7603,"e":60},{"f":32.0,"T":7992,"e":60},{"f":30.79,"T":8085,"e":60},{"f":29.06,"T":7552,"e":60},{"f":28.61,"T":7758,"e":60},{"f":28.47,"T":7981,"e":200},{"f":27.93,"T":7964,"e":60},{"f":28.15,"T":7328,"e":60},{"f":27.7,"T":7277,"e":60},{"f":27.47,"T":7706,"e":60},{"f":26.1,"T":8170,"e":60},{"f":26.0,"T":7834,"e":60},{"f":19.51,"T":8109,"e":60},{"f":19.74,"T":7947,"e":60},{"f":17.78,"T":7851,"e":60},{"f":16.78,"T":7748,"e":60},{"f":11.91,"T":7964,"e":60},{"f":11.46,"T":7586,"e":60},{"f":22.38,"T":7191,"e":60},{"f":21.24,"T":7215,"e":60},{"f":23.6,"T":7947,"e":60},{"f":24.38,"T":7923,"e":60},{"f":24.88,"T":7827,"e":60},{"f":23.38,"T":7765,"e":60},{"f":22.47,"T":7844,"e":60},{"f":21.79,"T":7758,"e":60},{"f":20.78,"T":7751,"e":60},{"f":20.19,"T":7696,"e":60},{"f":18.83,"T":7689,"e":60},{"f":19.28,"T":7792,"e":60},{"f":4.97,"T":7148,"e":60},{"f":7.9,"T":6976,"e":60},{"f":9.03,"T":7296,"e":60},{"f":8.6,"T":7078,"e":60},{"f":9.39,"T":7014,"e":60},{"f":9.0,"T":7104,"e":60},{"f":9.79,"T":7130,"e":60},{"f":10.38,"T":7373,"e":60},{"f":11.0,"T":7378,"e":60},{"f":10.28,"T":7078,"e":60},{"f":10.98,"T":7078,"e":60},{"f":11.77,"T":7053,"e":60},{"f":12.2,"T":6924,"e":60},{"f":13.0,"T":6891,"e":60},{"f":12.56,"T":7155,"e":60},{"f":13.16,"T":7078,"e":60},{"f":13.39,"T":7437,"e":60},{"f":12.96,"T":7348,"e":60},{"f":13.85,"T":7155,"e":60},{"f":14.34,"T":7207,"e":60},{"f":14.74,"T":7053,"e":60},{"f":15.24,"T":7078,"e":60},{"f":15.73,"T":7001,"e":60},{"f":15.1,"T":7579,"e":60},{"f":15.53,"T":7450,"e":60},{"f":16.37,"T":7566,"e":60},{"f":16.52,"T":7360,"e":60},{"f":17.52,"T":7489,"e":60},{"f":17.12,"T":7148,"e":60},{"f":18.6,"T":7232,"e":60},{"f":18.11,"T":7335,"e":60},{"f":16.82,"T":7745,"e":60},{"f":17.77,"T":7848,"e":60},{"f":19.4,"T":7784,"e":60},{"f":18.7,"T":7668,"e":60},{"f":19.1,"T":7591,"e":60},{"f":20.85,"T":7745,"e":60},{"f":20.29,"T":7489,"e":60},{"f":19.99,"T":7348,"e":60},{"f":21.28,"T":7207,"e":60},{"f":20.98,"T":7348,"e":60},{"f":21.58,"T":7566,"e":60},{"f":18.7,"T":7463,"e":60},{"f":16.13,"T":7283,"e":60},{"f":15.73,"T":7258,"e":60},{"f":14.94,"T":7258,"e":60},{"f":27.96,"T":7963,"e":60},{"f":30.83,"T":8078,"e":60},{"f":33.57,"T":7916,"e":60},{"f":23.56,"T":7950,"e":60},{"f":24.9,"T":7834,"e":60},{"f":24.61,"T":7770,"e":60},{"f":26.03,"T":7834,"e":60},{"f":22.47,"T":7842,"e":60},{"f":21.87,"T":7762,"e":60},{"f":27.42,"T":7714,"e":60},{"f":28.61,"T":7757,"e":60},{"f":28.11,"T":7655,"e":60},{"f":27.32,"T":7565,"e":60},{"f":31.19,"T":7791,"e":60},{"f":31.78,"T":7698,"e":60},{"f":33.21,"T":7732,"e":60},{"f":30.69,"T":7603,"e":60},{"f":30.3,"T":7501,"e":60},{"f":30.89,"T":7449,"e":60},{"f":31.98,"T":7483,"e":60},{"f":32.38,"T":7431,"e":60},{"f":33.37,"T":7380,"e":60},{"f":30.2,"T":7398,"e":60},{"f":30.3,"T":7347,"e":60},{"f":28.11,"T":7329,"e":60},{"f":27.82,"T":7257,"e":60},{"f":27.12,"T":7406,"e":60},{"f":26.63,"T":7411,"e":60},{"f":26.03,"T":7416,"e":60},{"f":25.74,"T":7300,"e":60},{"f":25.24,"T":7313,"e":60},{"f":24.84,"T":7424,"e":60},{"f":23.95,"T":7411,"e":60},{"f":23.46,"T":7321,"e":60},{"f":22.66,"T":7334,"e":60},{"f":22.37,"T":7398,"e":60},{"f":22.17,"T":7552,"e":60},{"f":21.63,"T":7565,"e":60},{"f":33.17,"T":7206,"e":60},{"f":37.07,"T":6905,"e":60},{"f":34.0,"T":6633,"e":60},{"f":25.74,"T":6508,"e":60},{"f":20.88,"T":7360,"e":60},{"f":20.29,"T":7372,"e":60},{"f":21.77,"T":7411,"e":60},{"f":9.5,"T":7120,"e":60},{"f":10.7,"T":7150,"e":60},{"f":11.3,"T":7190,"e":60},{"f":11.9,"T":7110,"e":60},{"f":12.3,"T":7230,"e":60},{"f":12.8,"T":7090,"e":60},{"f":13.5,"T":7180,"e":60},{"f":14.0,"T":7250,"e":60},{"f":14.6,"T":7120,"e":60},{"f":15.0,"T":7210,"e":60},{"f":15.4,"T":7340,"e":60},{"f":15.9,"T":7180,"e":60},{"f":16.5,"T":7290,"e":60},{"f":17.0,"T":7370,"e":60},{"f":17.6,"T":7260,"e":60},{"f":18.0,"T":7430,"e":60},{"f":18.5,"T":7340,"e":60},{"f":19.0,"T":7450,"e":60},{"f":19.4,"T":7290,"e":60},{"f":19.9,"T":7520,"e":60},{"f":20.4,"T":7430,"e":60},{"f":20.9,"T":7300,"e":60},{"f":21.3,"T":7420,"e":60},{"f":9.4,"T":7200,"e":60},{"f":10.0,"T":7210,"e":60},{"f":10.5,"T":7260,"e":60},{"f":11.2,"T":7100,"e":60},{"f":12.6,"T":7300,"e":60},{"f":13.0,"T":7170,"e":60},{"f":14.2,"T":7150,"e":60},{"f":14.6,"T":7330,"e":60},{"f":16.0,"T":7400,"e":60},{"f":16.9,"T":7500,"e":60},{"f":17.8,"T":7600,"e":60},{"f":18.4,"T":7650,"e":60},{"f":18.9,"T":7560,"e":60},{"f":19.5,"T":7680,"e":60},{"f":23.0,"T":7400,"e":60},{"f":23.8,"T":7450,"e":60},{"f":24.3,"T":7510,"e":60},{"f":24.9,"T":7470,"e":60},{"f":25.5,"T":7440,"e":60},{"f":26.8,"T":7490,"e":60},
{"f":9.8,"T":7050,"e":60},{"f":10.2,"T":7160,"e":60},{"f":10.6,"T":7050,"e":60},{"f":11.0,"T":7240,"e":60},{"f":11.5,"T":7030,"e":60},{"f":11.9,"T":7200,"e":60},{"f":12.3,"T":7060,"e":60},{"f":12.7,"T":7190,"e":60},{"f":13.1,"T":7230,"e":60},{"f":13.6,"T":7060,"e":60},{"f":13.9,"T":7300,"e":60},{"f":14.4,"T":7080,"e":60},{"f":14.8,"T":7270,"e":60},{"f":15.2,"T":7150,"e":60},{"f":15.6,"T":7380,"e":60},{"f":16.1,"T":7130,"e":60},{"f":16.3,"T":7460,"e":60},{"f":16.8,"T":7210,"e":60},{"f":17.2,"T":7290,"e":60},{"f":17.4,"T":7400,"e":60},{"f":17.9,"T":7180,"e":60},{"f":18.3,"T":7250,"e":60},{"f":18.5,"T":7500,"e":60},{"f":19.2,"T":7380,"e":60},{"f":19.7,"T":7430,"e":60},{"f":20.1,"T":7250,"e":60},{"f":20.6,"T":7340,"e":60},{"f":21.1,"T":7470,"e":60},{"f":21.6,"T":7310,"e":60},{"f":22.0,"T":7270,"e":60},{"f":22.8,"T":7500,"e":60},{"f":23.3,"T":7420,"e":60},{"f":23.6,"T":7280,"e":60},{"f":24.1,"T":7380,"e":60},{"f":24.6,"T":7300,"e":60},{"f":25.1,"T":7520,"e":60},{"f":26.3,"T":7480,"e":60},{"f":29.0,"T":7450,"e":60},{"f":29.6,"T":7500,"e":60},{"f":31.1,"T":7500,"e":60}]
},
"vconcat":[
{"width":993,"height":580,"data":{"name":"hist"},
"encoding":{"x":{"field":"x","type":"quantitative","scale":{"domain":[1.46,60.5],"nice":false,"zero":false},"axis":null},"y":{"field":"n","type":"quantitative","scale":{"domain":[0,52.5],"nice":false},"axis":null}},
"resolve":{"axis":{"x":"independent","y":"independent"}},
"layer":[
{"mark":{"type":"point","opacity":0},"encoding":{"x":{"field":"x","type":"quantitative","scale":{"domain":[1.46,60.5],"nice":false,"zero":false},"axis":{"orient":"bottom","values":[10,20,30,40,50,60],"title":null,"format":"d"}},"y":{"field":"n","type":"quantitative","scale":{"domain":[0,52.5],"nice":false},"axis":{"orient":"left","values":[0,10,20,30,40,50],"title":"Number of stars","titleX":-83,"titleY":289,"format":"d"}}}},
{"mark":{"type":"point","opacity":0},"encoding":{"x":{"field":"x","type":"quantitative","scale":{"domain":[1.46,60.5],"nice":false,"zero":false},"axis":{"orient":"top","values":[10,20,30,40,50,60],"labels":false,"title":null}},"y":{"field":"n","type":"quantitative","scale":{"domain":[0,52.5],"nice":false},"axis":{"orient":"right","values":[0,10,20,30,40,50],"labels":false,"title":null}}}},
{"mark":{"type":"line","interpolate":"step-after","strokeWidth":2.8,"clip":false},"encoding":{"order":{"field":"o","type":"quantitative"},"color":{"field":"b","type":"nominal","scale":{"domain":["TIC","LAMOST"],"range":["#0000ff","#ff0000"]},"legend":{"orient":"none","legendX":757,"legendY":23,"title":null,"symbolType":"M-1.84,-0.66H1.84V0.66H-1.84Z","symbolSize":1024,"symbolStrokeWidth":2.8,"symbolFillColor":"transparent","labelOffset":36,"rowPadding":11}}}}
]},
{"width":993,"height":580,
"encoding":{"x":{"field":"f","type":"quantitative","scale":{"domain":[1.46,60.5],"nice":false,"zero":false},"axis":null},"y":{"field":"T","type":"quantitative","scale":{"domain":[5990,10450],"nice":false,"zero":false},"axis":null}},
"resolve":{"axis":{"x":"independent","y":"independent"}},
"layer":[
{"data":{"name":"fit2"},"mark":{"type":"point","opacity":0},"encoding":{"x":{"field":"f","type":"quantitative","scale":{"domain":[1.46,60.5],"nice":false,"zero":false},"axis":{"orient":"bottom","values":[10,20,30,40,50,60],"title":null,"format":"d"}},"y":{"field":"T","type":"quantitative","scale":{"domain":[5990,10450],"nice":false,"zero":false},"axis":{"orient":"left","values":[6000,7000,8000,9000,10000],"format":"d","title":"T","titleFontStyle":"italic","titleFontSize":35,"titleX":-156,"titleY":336}}}},
{"data":{"name":"fit2"},"mark":{"type":"point","opacity":0},"encoding":{"x":{"field":"f","type":"quantitative","scale":{"domain":[1.46,60.5],"nice":false,"zero":false},"axis":{"orient":"top","values":[10,20,30,40,50,60],"labels":false,"title":null}},"y":{"field":"T","type":"quantitative","scale":{"domain":[5990,10450],"nice":false,"zero":false},"axis":{"orient":"right","values":[6000,7000,8000,9000,10000],"labels":false,"title":null}}}},
{"data":{"name":"fit2"},"mark":{"type":"point","opacity":0},"encoding":{"y":{"field":"T","type":"quantitative","scale":{"domain":[5990,10450],"nice":false,"zero":false},"axis":{"orient":"left","labels":false,"ticks":false,"title":"eff","titleFontStyle":"italic","titleFontSize":24,"titleX":-149,"titleY":309}}}},
{"data":{"name":"fit2"},"mark":{"type":"point","opacity":0},"encoding":{"y":{"field":"T","type":"quantitative","scale":{"domain":[5990,10450],"nice":false,"zero":false},"axis":{"orient":"left","labels":false,"ticks":false,"title":"(K)","titleFontSize":35,"titleX":-156,"titleY":256}}}},
{"data":{"name":"stars"},"transform":[{"filter":"datum.e>0"}],"mark":{"type":"errorbar","ticks":{"size":12,"color":"#808080","opacity":0.45,"thickness":2.5},"rule":{"color":"#808080","opacity":0.45,"strokeWidth":4}},"encoding":{"yError":{"field":"e"}}},
{"data":{"name":"stars"},"mark":{"type":"circle","size":324},"encoding":{"color":{"datum":"TIC","scale":{"domain":["TIC","LAMOST"],"range":["rgba(0,0,255,0.5)","#ff0000"]},"legend":{"orient":"none","legendX":757,"legendY":23,"title":null,"symbolType":"M-0.547,0A0.547,0.547,0,1,1,0.547,0A0.547,0.547,0,1,1,-0.547,0Z","symbolSize":1024,"symbolStrokeWidth":0,"labelOffset":39,"rowPadding":12,"zindex":2}}}},
{"data":{"name":"lamost"},"mark":{"type":"errorbar","ticks":{"size":12,"color":"#808080","thickness":2.5,"opacity":0.9},"rule":{"color":"#808080","opacity":0.9,"strokeWidth":4}},"encoding":{"yError":{"field":"e"}}},
{"data":{"name":"lamost"},"mark":{"type":"circle","size":324,"opacity":1},"encoding":{"color":{"datum":"LAMOST","scale":{"domain":["TIC","LAMOST"],"range":["rgba(0,0,255,0.5)","#ff0000"]}}}},
{"data":{"name":"fit2"},"transform":[{"filter":"datum.s==='LAMOST'"}],"mark":{"type":"line","color":"#ff0000","strokeWidth":5}},
{"data":{"name":"fit2"},"transform":[{"filter":"datum.s==='TIC'"}],"mark":{"type":"line","color":"#0000ff","strokeWidth":5}},
{"data":{"name":"fit2"},"mark":{"type":"point","opacity":0,"filled":false},"encoding":{"shape":{"field":"s","type":"nominal","scale":{"domain":["LAMOST","TIC"],"range":["M-0.375,-0.97H0.375M0,-0.97V0.97M-0.375,0.97H0.375","M-0.375,-0.97H0.375M0,-0.97V0.97M-0.375,0.97H0.375"]},"legend":{"orient":"none","legendX":757,"legendY":21,"title":null,"symbolSize":1024,"symbolOpacity":1,"symbolStrokeColor":"#b0b0b0","symbolFillColor":"transparent","symbolStrokeWidth":3,"labelOffset":39,"rowPadding":-2.6,"labelExpr":"''","zindex":1}}}}
]},
{"width":993,"height":580,
"encoding":{"x":{"field":"f","type":"quantitative","scale":{"domain":[1.46,60.5],"nice":false,"zero":false},"axis":null},"y":{"field":"T","type":"quantitative","scale":{"domain":[5990,10450],"nice":false,"zero":false},"axis":null}},
"resolve":{"axis":{"x":"independent","y":"independent"}},
"layer":[
{"data":{"name":"fit3"},"mark":{"type":"point","opacity":0},"encoding":{"x":{"field":"f","type":"quantitative","scale":{"domain":[1.46,60.5],"nice":false,"zero":false},"axis":{"orient":"bottom","values":[10,20,30,40,50,60],"format":"d","title":"Frequency of Maximum Amplitude (day⁻¹)","titlePadding":16}},"y":{"field":"T","type":"quantitative","scale":{"domain":[5990,10450],"nice":false,"zero":false},"axis":{"orient":"left","values":[6000,7000,8000,9000,10000],"format":"d","title":"T","titleFontStyle":"italic","titleFontSize":35,"titleX":-156,"titleY":336}}}},
{"data":{"name":"fit3"},"mark":{"type":"point","opacity":0},"encoding":{"x":{"field":"f","type":"quantitative","scale":{"domain":[1.46,60.5],"nice":false,"zero":false},"axis":{"orient":"top","values":[10,20,30,40,50,60],"labels":false,"title":null}},"y":{"field":"T","type":"quantitative","scale":{"domain":[5990,10450],"nice":false,"zero":false},"axis":{"orient":"right","values":[6000,7000,8000,9000,10000],"labels":false,"title":null}}}},
{"data":{"name":"fit3"},"mark":{"type":"point","opacity":0},"encoding":{"y":{"field":"T","type":"quantitative","scale":{"domain":[5990,10450],"nice":false,"zero":false},"axis":{"orient":"left","labels":false,"ticks":false,"title":"eff","titleFontStyle":"italic","titleFontSize":24,"titleX":-149,"titleY":309}}}},
{"data":{"name":"fit3"},"mark":{"type":"point","opacity":0},"encoding":{"y":{"field":"T","type":"quantitative","scale":{"domain":[5990,10450],"nice":false,"zero":false},"axis":{"orient":"left","labels":false,"ticks":false,"title":"(K)","titleFontSize":35,"titleX":-156,"titleY":256}}}},
{"data":{"name":"stars"},"transform":[{"filter":"datum.c==='ZAMS'"}],"mark":{"type":"errorbar","ticks":{"size":12,"color":"#808080","opacity":0.65,"thickness":2.5},"rule":{"color":"#808080","opacity":0.65,"strokeWidth":4}},"encoding":{"yError":{"field":"e"}}},
{"data":{"name":"stars"},"transform":[{"filter":"datum.c==='ZAMS'"}],"mark":{"type":"circle","size":324},"encoding":{"color":{"field":"c","type":"nominal","scale":{"domain":["Pre-MS","ZAMS","MAMS","TAMS"],"range":["rgba(0,255,255,0.8)","rgba(0,128,0,0.8)","rgba(255,165,0,0.8)","rgba(0,0,0,0.8)"]},"legend":{"orient":"none","legendX":780,"legendY":23,"title":null,"symbolType":"M-0.547,0A0.547,0.547,0,1,1,0.547,0A0.547,0.547,0,1,1,-0.547,0Z","symbolSize":1024,"symbolStrokeWidth":0,"labelOffset":39,"rowPadding":12,"zindex":2}}}},
{"data":{"name":"stars"},"transform":[{"filter":"datum.c==='MAMS'"}],"mark":{"type":"errorbar","ticks":{"size":12,"color":"#808080","opacity":0.65,"thickness":2.5},"rule":{"color":"#808080","opacity":0.65,"strokeWidth":4}},"encoding":{"yError":{"field":"e"}}},
{"data":{"name":"stars"},"transform":[{"filter":"datum.c==='MAMS'"}],"mark":{"type":"circle","size":324},"encoding":{"color":{"field":"c","type":"nominal","scale":{"domain":["Pre-MS","ZAMS","MAMS","TAMS"],"range":["rgba(0,255,255,0.8)","rgba(0,128,0,0.8)","rgba(255,165,0,0.8)","rgba(0,0,0,0.8)"]}}}},
{"data":{"name":"stars"},"transform":[{"filter":"datum.c==='Pre-MS'"}],"mark":{"type":"errorbar","ticks":{"size":12,"color":"#808080","opacity":0.65,"thickness":2.5},"rule":{"color":"#808080","opacity":0.65,"strokeWidth":4}},"encoding":{"yError":{"field":"e"}}},
{"data":{"name":"stars"},"transform":[{"filter":"datum.c==='Pre-MS'"}],"mark":{"type":"circle","size":324},"encoding":{"color":{"field":"c","type":"nominal","scale":{"domain":["Pre-MS","ZAMS","MAMS","TAMS"],"range":["rgba(0,255,255,0.8)","rgba(0,128,0,0.8)","rgba(255,165,0,0.8)","rgba(0,0,0,0.8)"]}}}},
{"data":{"name":"stars"},"transform":[{"filter":"datum.c==='TAMS'"}],"mark":{"type":"errorbar","ticks":{"size":12,"color":"#808080","opacity":0.65,"thickness":2.5},"rule":{"color":"#808080","opacity":0.65,"strokeWidth":4}},"encoding":{"yError":{"field":"e"}}},
{"data":{"name":"stars"},"transform":[{"filter":"datum.c==='TAMS'"}],"mark":{"type":"circle","size":324},"encoding":{"color":{"field":"c","type":"nominal","scale":{"domain":["Pre-MS","ZAMS","MAMS","TAMS"],"range":["rgba(0,255,255,0.8)","rgba(0,128,0,0.8)","rgba(255,165,0,0.8)","rgba(0,0,0,0.8)"]}}}},
{"data":{"name":"fit3"},"transform":[{"filter":"datum.s==='ZAMS'"}],"mark":{"type":"line","color":"#008000","strokeWidth":5}},
{"data":{"name":"fit3"},"transform":[{"filter":"datum.s==='MAMS'"}],"mark":{"type":"line","color":"#ffa500","strokeWidth":5}},
{"data":{"name":"fit3"},"transform":[{"filter":"datum.s==='TAMS'"}],"mark":{"type":"line","color":"#000000","strokeWidth":5}},
{"data":{"name":"fit3"},"transform":[{"filter":"datum.s==='Pre-MS'"}],"mark":{"type":"line","color":"#00ffff","strokeWidth":5}},
{"data":{"name":"fit3"},"mark":{"type":"point","opacity":0,"filled":false},"encoding":{"shape":{"field":"s","type":"nominal","scale":{"domain":["TAMS","MAMS","ZAMS","Pre-MS"],"range":["M-0.375,-0.97H0.375M0,-0.97V0.97M-0.375,0.97H0.375","M-0.375,-0.97H0.375M0,-0.97V0.97M-0.375,0.97H0.375","M-0.375,-0.97H0.375M0,-0.97V0.97M-0.375,0.97H0.375","M-0.375,-0.97H0.375M0,-0.97V0.97M-0.375,0.97H0.375"]},"legend":{"orient":"none","legendX":780,"legendY":21,"title":null,"symbolSize":1024,"symbolOpacity":1,"symbolStrokeColor":"#b0b0b0","symbolFillColor":"transparent","symbolStrokeWidth":3,"labelOffset":39,"rowPadding":-2.6,"labelExpr":"''","zindex":1}}}}
]}
]}
